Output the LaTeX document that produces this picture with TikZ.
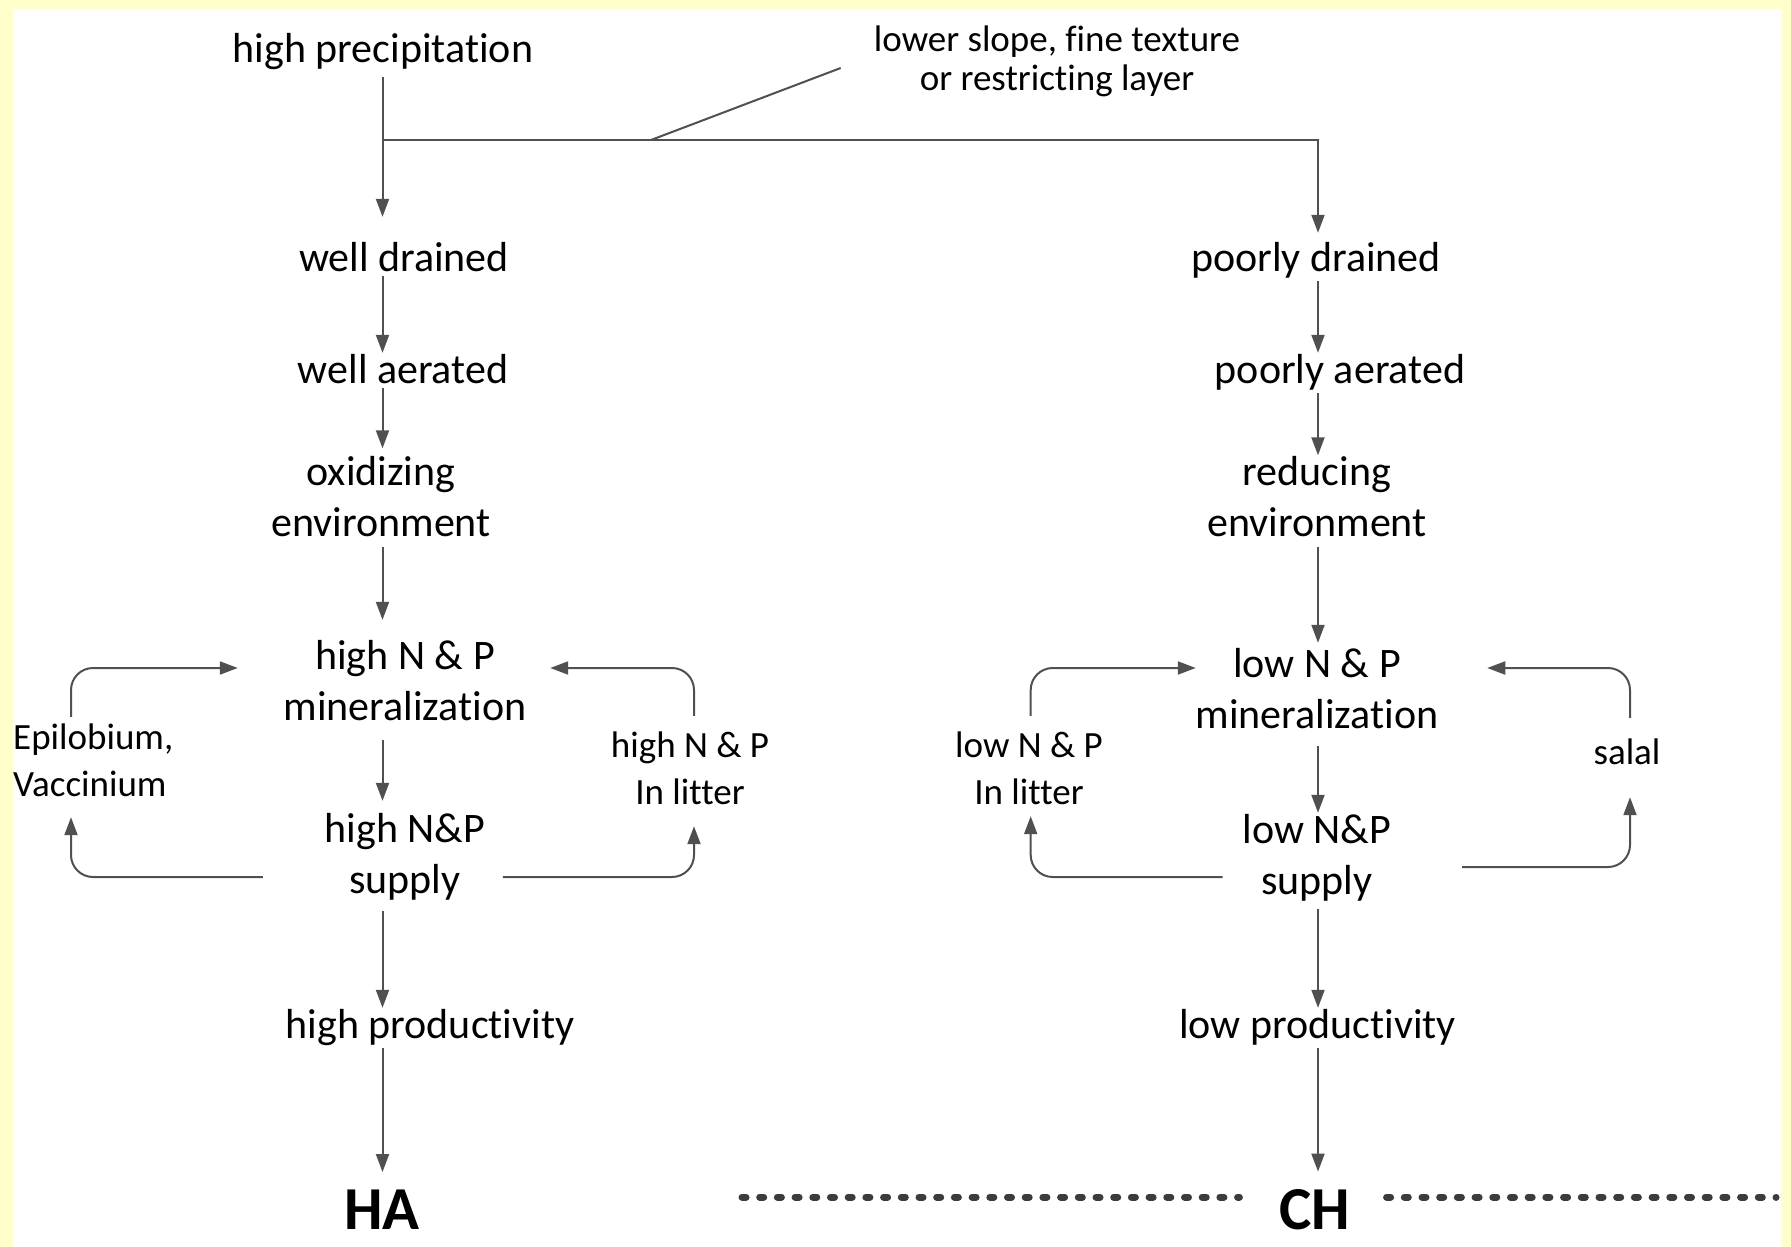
\documentclass[tikz,border=0pt]{standalone}
\usepackage{fontspec}
\setmainfont{Carlito}[RawFeature={-liga;-clig;-calt;-dlig}]
\usetikzlibrary{arrows.meta}

\definecolor{paper}{RGB}{255,255,204}
\definecolor{lncol}{RGB}{80,80,80}
\definecolor{dotcol}{RGB}{60,60,60}

\newcommand\mainsz{\fontsize{42pt}{51pt}\selectfont}
\newcommand\sidesz{\fontsize{37pt}{47pt}\selectfont}
\newcommand\notesz{\fontsize{37pt}{39pt}\selectfont}
\newcommand\bigsz{\fontsize{61pt}{70pt}\selectfont\bfseries}
\newcommand\mainstrut{\vrule height 30pt depth 10pt width 0pt}
\newcommand\sidestrut{\vrule height 27pt depth 9pt width 0pt}

\tikzset{
  main/.style={inner sep=0pt, font=\mainsz, align=center},
  side/.style={inner sep=0pt, font=\sidesz, align=center},
  note/.style={inner sep=0pt, font=\notesz, align=center},
  endlabel/.style={inner sep=0pt, font=\bigsz},
  ln/.style={draw=lncol, line width=2pt},
  arr/.style={ln, -{Triangle[length=18pt,width=13pt]}},
  fb/.style={arr, rounded corners=22pt},
  dots/.style={draw=dotcol, line width=7pt, line cap=round, dash pattern=on 4pt off 13.7pt},
}

\begin{document}
\begin{tikzpicture}[x=1pt, y=-1pt]
  % page and frame
  \fill[paper] (0,0) rectangle (1791,1247);
  \fill[white] (13,9) rectangle (1781,1247);
  \useasboundingbox (0,0) rectangle (1791,1247);

  % top of the chart
  \node[main] (prec) at (383,53) {\mainstrut high precipitation};
  \node[note] (lower) at (1057,62.4) {\sidestrut lower slope, fine texture\\\sidestrut or restricting layer};

  % well drained branch
  \node[main] (wd)    at (404,261)   {\mainstrut well drained};
  \node[main] (wa)    at (403,373)   {\mainstrut well aerated};
  \node[main] (ox)    at (381,501)   {\mainstrut oxidizing\\\mainstrut environment};
  \node[main] (hmin)  at (405,684.5) {\mainstrut high N \& P\\\mainstrut mineralization};
  \node[main] (hsup)  at (405,857.5) {\mainstrut high N\&P\\\mainstrut supply};
  \node[main] (hprod) at (430,1028)  {\mainstrut high productivity};
  \node[endlabel] (HA) at (382,1210) {HA};
  \node[side, align=left, anchor=west] (epi) at (13,763.5) {\sidestrut Epilobium,\\\sidestrut Vaccinium};
  \node[side] (hlit) at (690,771.5) {\sidestrut high N \& P\\\sidestrut In litter};

  % poorly drained branch
  \node[main] (pd)    at (1316,261)   {\mainstrut poorly drained};
  \node[main] (pa)    at (1340,373)   {\mainstrut poorly aerated};
  \node[main] (red)   at (1317,501)   {\mainstrut reducing\\\mainstrut environment};
  \node[main] (lmin)  at (1317,692.5) {\mainstrut low N \& P\\\mainstrut mineralization};
  \node[main] (lsup)  at (1317,858.5) {\mainstrut low N\&P\\\mainstrut supply};
  \node[main] (lprod) at (1317.5,1028) {\mainstrut low productivity};
  \node[endlabel] (CH) at (1315,1210) {CH};
  \node[side] (llit)  at (1029,771.5) {\sidestrut low N \& P\\\sidestrut In litter};
  \node[side] (salal) at (1627,755)   {\sidestrut salal};

  % split below the precipitation label
  \coordinate (split) at (382.5,140);
  \coordinate (colR)  at (1318,140);
  \coordinate (lead)  at (651,140);
  \draw[ln, shorten <=4pt] (prec.south -| split) -- (split);
  \draw[arr, shorten >=24pt] (split) -- (wd.north -| split);
  \draw[arr, shorten >=8pt] (split) -- (colR) -- (pd.north -| colR);
  \draw[ln] (lead) -- ([shift={(-33,5.6)}]lower.west);

  % left column
  \draw[arr, shorten <=-5pt] (wd.south -| split) -- (wa.north -| split);
  \draw[arr, shorten <=-5pt, shorten >=7pt] (wa.south -| split) -- (ox.north -| split);
  \draw[arr, shorten >=19pt] (ox.south -| split) -- (hmin.north -| split);
  \draw[arr, shorten <=10pt, shorten >=11pt] (hmin.south -| split) -- (hsup.north -| split);
  \draw[arr, shorten <=8pt] (hsup.south -| split) -- (hprod.north -| split);
  \draw[arr, shorten >=18pt] (hprod.south -| split) -- (HA.north -| split);

  % right column
  \draw[arr] (pd.south -| colR) -- (pa.north -| colR);
  \draw[arr] (pa.south -| colR) -- (red.north -| colR);
  \draw[arr, shorten >=4pt] (red.south -| colR) -- (lmin.north -| colR);
  \draw[arr, shorten <=8pt] (lmin.south -| colR) -- (lsup.north -| colR);
  \draw[arr, shorten <=5pt] (lsup.south -| colR) -- (lprod.north -| colR);
  \draw[arr, shorten >=18pt] (lprod.south -| colR) -- (CH.north -| colR);

  % feedback loops, well drained side
  \draw[fb] ([shift={(58,-5)}]epi.north west) |- ([shift={(-45.6,-16.5)}]hmin.west);
  \draw[fb] ([shift={(-61.8,19.5)}]hsup.west) -| ([shift={(58,12)}]epi.south west);
  \draw[fb] ([shift={(4,-14)}]hlit.north) |- ([shift={(23.6,-16.5)}]hmin.east);
  \draw[fb] ([shift={(17.3,19.5)}]hsup.east) -| ([shift={(4,13)}]hlit.south);

  % feedback loops, poorly drained side
  \draw[fb] ([shift={(1.7,-14)}]llit.north) |- ([shift={(0.4,-24.5)}]lmin.west);
  \draw[fb] ([shift={(-19.9,18.5)}]lsup.west) -| ([shift={(1.7,3)}]llit.south);
  \draw[fb] ([shift={(3,-19)}]salal.north) |- ([shift={(48.6,-24.5)}]lmin.east);
  \draw[fb] ([shift={(70.6,8.5)}]lsup.east) -| ([shift={(3,24)}]salal.south);

  % dotted rules beside CH
  \draw[dots] (742,1197) -- ([shift={(-40,-13)}]CH.west);
  \draw[dots] ([shift={(36,-13)}]CH.east) -- (1776,1197);
\end{tikzpicture}
\end{document}
